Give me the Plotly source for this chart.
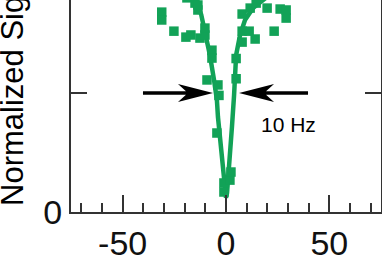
import plotly.graph_objects as go

# ---- data ----
freq_hz = [-31.1, -31.1, -25.2, -19.4, -17.0, -18.9, -15.0, -13.6, -13.6, -12.6,
           -10.2, -10.2, -6.8, -6.8, -9.2, -3.9, -3.4, -4.4, -1.0, -1.0,
           1.9, 2.4, 4.9, 4.9, 7.8, 7.8, 11.2, 14.1, 7.8, 11.7,
           14.6, 19.9, 23.3, 26.2, 29.1, 29.1]
signal = [0.84, 0.807, 0.76, 0.735, 0.744, 0.90, 0.878, 0.849, 0.87, 0.731,
          0.744, 0.773, 0.68, 0.647, 0.555, 0.534, 0.49, 0.332, 0.122, 0.084,
          0.134, 0.168, 0.56, 0.645, 0.714, 0.76, 0.76, 0.727, 0.832, 0.857,
          0.878, 0.857, 0.76, 0.853, 0.849, 0.815]

fit_hz = [-40, -25, -18, -14.6, -12, -10.2, -7.8, -5.8, -4.4, -3.9, -2.4, -1.5, -0.5,
          0, 0.5, 1.5, 2.4, 2.9, 3.9, 4.4, 4.9, 6.8, 9.2, 13.1, 17.5, 25, 40]
fit_signal = [0.985, 0.96, 0.925, 0.891, 0.83, 0.765, 0.66, 0.555, 0.47, 0.40, 0.26, 0.155, 0.075,
              0.06, 0.08, 0.176, 0.26, 0.36, 0.49, 0.575, 0.66, 0.744, 0.807, 0.857, 0.891, 0.94, 0.985]

x_tick_vals = [-50, 0, 50]
x_tick_text = ["-50", "0", "50"]
y_tick_vals = [0, 0.5]
y_tick_text = ["0", ""]

x_range = [-75, 75]
y_range = [0, 0.891]

width_label = "10 Hz"
half_level = 0.5
arrow_tips = [-6.3, 6.3]
label_pos = (30, 0.368)
y_title = "Normalized Signal"

GREEN = "#12a257"
AXIS = "#333333"
FONT = "Liberation Sans, Arial, sans-serif"

fig = go.Figure()
fig.add_trace(go.Scatter(x=fit_hz, y=fit_signal, mode="lines",
                         line=dict(color=GREEN, width=4.5), hoverinfo="skip"))
fig.add_trace(go.Scatter(x=freq_hz, y=signal, mode="markers",
                         marker=dict(symbol="square", size=9.5, color=GREEN,
                                     line=dict(width=0))))

# arrows (pixel-sized paths anchored at data positions)
right_pointing = "M 0,0 L -35,9 L -27,1.8 L -70,1.8 L -70,-1.8 L -27,-1.8 L -35,-9 Z"
left_pointing = "M 0,0 L 35,9 L 27,1.8 L 69,1.8 L 69,-1.8 L 27,-1.8 L 35,-9 Z"
for tip, path in zip(arrow_tips, [right_pointing, left_pointing]):
    fig.add_shape(type="path", xref="x", yref="y", xsizemode="pixel", ysizemode="pixel",
                  xanchor=tip, yanchor=half_level, path=path,
                  fillcolor="black", line=dict(width=0))

fig.add_annotation(x=label_pos[0], y=label_pos[1], xref="x", yref="y", text=width_label,
                   showarrow=False, font=dict(family=FONT, size=21, color="black"),
                   xanchor="center", yanchor="middle")

fig.add_annotation(x=(12 - 71) / 310, y=(212 - 80) / 212, xref="paper", yref="paper",
                   text=y_title, textangle=-90, showarrow=False,
                   font=dict(family=FONT, size=31, color="black"),
                   xanchor="center", yanchor="middle")

fig.update_layout(
    width=382, height=255,
    margin=dict(l=71, r=1, t=0, b=43, pad=0),
    paper_bgcolor="white", plot_bgcolor="white",
    showlegend=False,
    font=dict(family=FONT, color="#111111"),
    xaxis=dict(range=x_range, showline=True, linecolor=AXIS, linewidth=2,
               automargin=False,
               ticks="inside", ticklen=17, tickwidth=2, tickcolor=AXIS,
               tickvals=x_tick_vals, ticktext=x_tick_text,
               tickfont=dict(family=FONT, size=34, color="#111111"),
               showgrid=False, zeroline=False,
               minor=dict(ticks="inside", ticklen=9, tickwidth=2, tickcolor=AXIS,
                          dtick=10, tick0=0, showgrid=False)),
    yaxis=dict(range=y_range, showline=True, linecolor=AXIS, linewidth=2, mirror="ticks",
               automargin=False,
               ticks="inside", ticklen=16, tickwidth=2, tickcolor=AXIS,
               tickvals=y_tick_vals, ticktext=y_tick_text,
               tickfont=dict(family=FONT, size=34, color="#111111"),
               showgrid=False, zeroline=False),
)

fig.write_html("out.html")
